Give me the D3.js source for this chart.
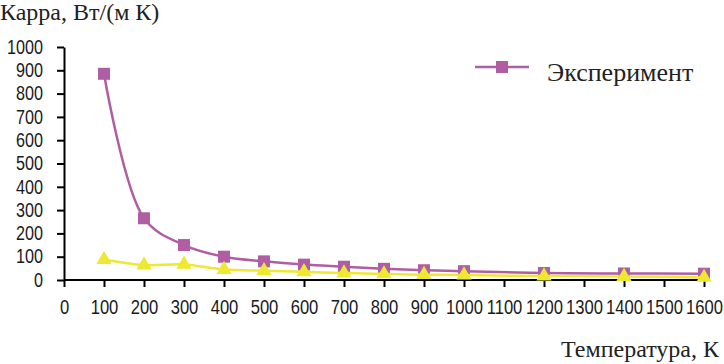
<!DOCTYPE html>
<html>
<head>
<meta charset="utf-8">
<script src="https://cdn.jsdelivr.net/npm/d3@7"></script>
<style>
  body { margin: 0; background: #fff; }
  .axis text { font-family: "Liberation Sans", Arial, sans-serif; font-size: 19.5px; fill: #1a1a1a; }
  .axis path, .axis line { stroke: #000; stroke-width: 2; }
  .serif { font-family: "Liberation Serif", "Times New Roman", serif; fill: #222; }
</style>
</head>
<body>
<script>
// temperature, K
var temps = [100, 200, 300, 400, 500, 600, 700, 800, 900, 1000, 1200, 1400, 1600];
// experiment (purple squares)
var experiment = [885, 265, 150, 100, 80, 66, 57, 48, 42, 38, 30, 28, 27];
// second series (yellow triangles, not in legend)
var model = [88, 64, 67, 45, 40, 35, 30, 26, 23, 21, 17, 15, 11];
var xTicks = d3.range(0, 1601, 100);
var yTicks = d3.range(0, 1001, 100);

const W = 724, H = 364;
var svg = d3.select("body").append("svg")
  .attr("width", W)
  .attr("height", H);

var x = d3.scaleLinear().domain([0, 1600]).range([64, 704]);
var y = d3.scaleLinear().domain([0, 1000]).range([280, 47]);

var xAxis = d3.axisBottom(x).tickValues(xTicks).tickFormat(d3.format("d"))
  .tickSize(7).tickSizeOuter(0).tickPadding(13);
var yAxis = d3.axisLeft(y).tickValues(yTicks).tickFormat(d3.format("d"))
  .tickSize(7).tickSizeOuter(0);

var gx = svg.append("g")
  .attr("class", "axis x")
  .attr("transform", "translate(0," + y(0) + ")")
  .call(xAxis);
gx.selectAll("text")
  .attr("transform", "scale(0.85,1)")
  .attr("x", 0);
gx.select(".domain").attr("d", "M" + x(0) + ",0H" + (x(1600) + 1));

var gy = svg.append("g")
  .attr("class", "axis y")
  .attr("transform", "translate(" + x(0) + ",0)")
  .call(yAxis);
gy.selectAll("text")
  .attr("x", 0)
  .attr("transform", "translate(-21,0) scale(0.83,1)");

var line = d3.line()
  .x(function(d) { return x(d[0]); })
  .y(function(d) { return y(d[1]); })
  .curve(d3.curveCatmullRom);

var purple = "#b05ea3", yellow = "#eee831";

var expData = temps.map(function(t, i) { return [t, experiment[i]]; });
var modData = temps.map(function(t, i) { return [t, model[i]]; });

svg.append("path")
  .datum(expData)
  .attr("d", line)
  .attr("fill", "none")
  .attr("stroke", purple)
  .attr("stroke-width", 2.5);

svg.selectAll(".sq")
  .data(expData)
  .enter()
  .append("path")
  .attr("class", "sq")
  .attr("d", d3.symbol(d3.symbolSquare, 144))
  .attr("transform", function(d) { return "translate(" + x(d[0]) + "," + y(d[1]) + ")"; })
  .attr("fill", purple);

svg.append("path")
  .datum(modData)
  .attr("d", line)
  .attr("fill", "none")
  .attr("stroke", yellow)
  .attr("stroke-width", 2.5);

svg.selectAll(".tri")
  .data(modData)
  .enter()
  .append("path")
  .attr("class", "tri")
  .attr("d", d3.symbol(d3.symbolTriangle, 100))
  .attr("transform", function(d) { return "translate(" + x(d[0]) + "," + y(d[1]) + ")"; })
  .attr("fill", yellow);

// legend
var lg = svg.append("g").attr("transform", "translate(475,67)");
lg.append("line")
  .attr("x1", 0).attr("x2", 54)
  .attr("stroke", purple).attr("stroke-width", 2.5);
lg.append("path")
  .attr("d", d3.symbol(d3.symbolSquare, 144))
  .attr("transform", "translate(27,0)")
  .attr("fill", purple);
lg.append("text")
  .attr("class", "serif")
  .attr("x", 72).attr("y", 14)
  .style("font-size", "26px")
  .text("Эксперимент");

// axis titles
svg.append("text")
  .attr("class", "serif")
  .attr("x", 0).attr("y", 20)
  .style("font-size", "24px")
  .text("Карра, Вт/(м К)");

svg.append("text")
  .attr("class", "serif")
  .attr("x", 719).attr("y", 357)
  .attr("text-anchor", "end")
  .style("font-size", "24px")
  .text("Температура, К");
</script>
</body>
</html>
